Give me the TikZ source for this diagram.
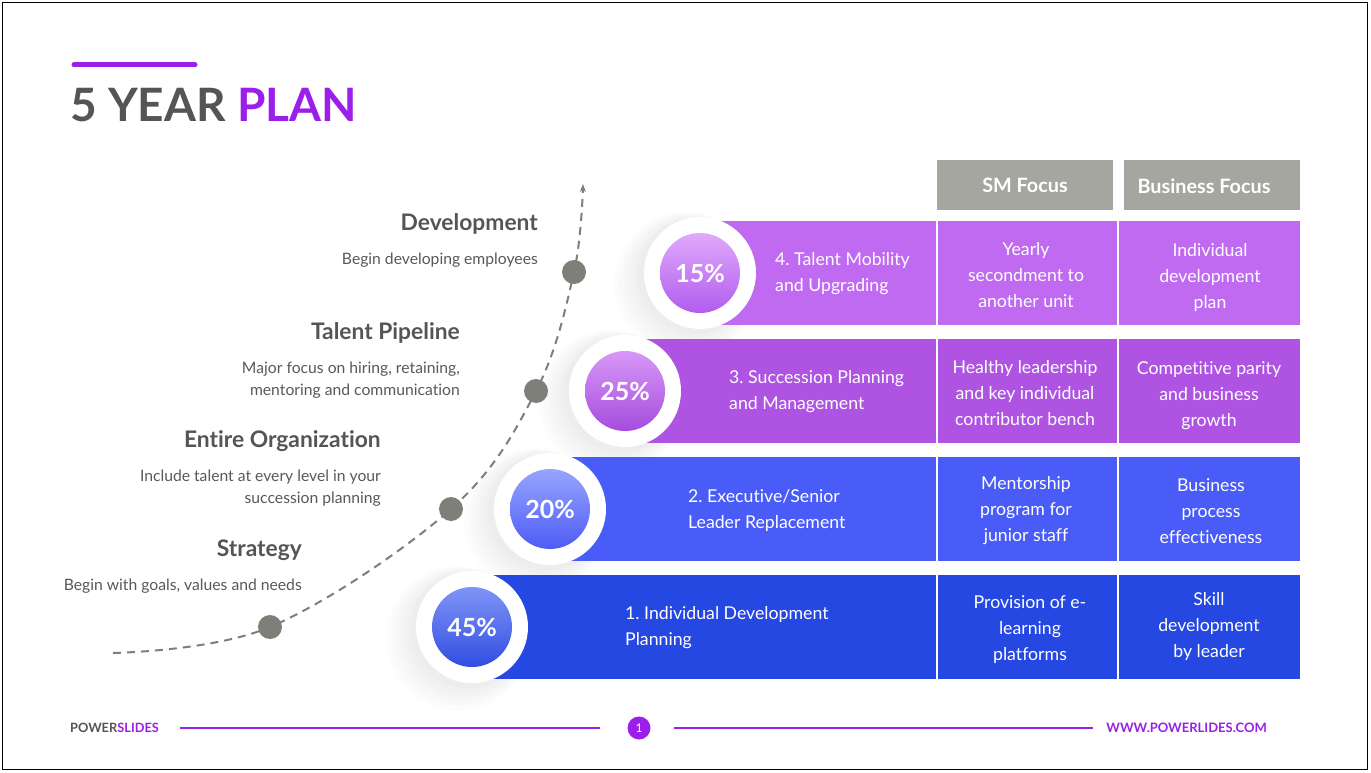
\documentclass[tikz,border=0pt]{standalone}
\usepackage{fontspec}
\setmainfont{Lato}[Ligatures=NoCommon]
\frenchspacing
\usetikzlibrary{arrows.meta, positioning}
\definecolor{mypurple}{RGB}{155,31,232}
\definecolor{mygray}{RGB}{85,85,85}
\definecolor{mytext}{RGB}{89,89,89}
\definecolor{mydot}{RGB}{127,127,122}
\definecolor{hdrgray}{RGB}{166,166,161}
\definecolor{rowfour}{RGB}{191,106,241}
\definecolor{rowthree}{RGB}{175,83,227}
\definecolor{rowtwo}{RGB}{74,92,248}
\definecolor{rowone}{RGB}{37,71,226}
\definecolor{lightfour}{RGB}{224,170,251}
\definecolor{darkfour}{RGB}{178,92,238}
\definecolor{lightthree}{RGB}{216,152,247}
\definecolor{darkthree}{RGB}{166,76,222}
\definecolor{lighttwo}{RGB}{150,165,255}
\definecolor{darktwo}{RGB}{78,92,245}
\definecolor{lightone}{RGB}{128,148,246}
\definecolor{darkone}{RGB}{48,78,226}
\tikzset{
  heading/.style={anchor=east, inner sep=0pt, text=mygray,
    font=\fontsize{22.8}{26}\selectfont\bfseries},
  desc/.style={anchor=east, align=right, inner sep=0pt, text=mytext,
    font=\fontsize{15.7}{22}\selectfont},
  hdrbox/.style={rectangle, fill=hdrgray, minimum width=176pt,
    minimum height=50pt, inner sep=0pt, text=white,
    font=\fontsize{19.8}{22}\selectfont\bfseries},
  ring/.style={circle, fill=white, minimum size=112pt, inner sep=0pt},
  pct/.style={circle, minimum size=80pt, inner sep=0pt, text=white,
    shading angle=45, font=\fontsize{25}{30}\selectfont\bfseries},
  rowlabel/.style={anchor=west, align=left, inner sep=0pt, text=white,
    font=\fontsize{17.7}{26}\selectfont},
  cell/.style={align=center, inner sep=0pt, text=white,
    font=\fontsize{17.7}{26}\selectfont},
  dot/.style={circle, fill=mydot, minimum size=24pt, inner sep=0pt},
  curve/.style={-{Stealth[length=8pt, width=6pt]}, color=mydot,
    line width=2pt, dash pattern=on 8pt off 6pt},
  divider/.style={white, line width=1.5pt},
  halo/.style={black, opacity=0.012},
  footline/.style={mypurple, line width=1.2pt}
}
\begin{document}
\begin{tikzpicture}[x=1pt, y=-1pt]
  \useasboundingbox (0,0) rectangle (1371,773);
  \fill[white] (0,0) rectangle (1371,773);
  \draw[black, line width=1.5pt] (2.5,2.5) rectangle (1367.5,769.5);

  % title
  \draw[mypurple, line width=5pt, line cap=round] (74,65) -- (195,65);
  \node[anchor=base west, inner sep=0pt, font=\fontsize{46}{52}\selectfont\bfseries]
    (title) at (70,122) {\textcolor{mygray}{5 YEAR} \textcolor{mypurple}{PLAN}};

  % column headers
  \node[hdrbox] (hsm) at (1025,185) {SM Focus};
  \node[hdrbox] (hbiz) at (1211.5,185) {};
  \node[text=white, font=\fontsize{19.8}{22}\selectfont\bfseries] (hbiztxt) at (1204,186) {Business Focus};

  % soft shadows behind the rings
  \foreach \cx/\cy in {700/273, 625/391, 550/509, 472/627} {
    \foreach \r/\d in {72/14, 69/12, 66/10, 63/8, 60/6, 58/4} {
      \fill[halo] (\cx-\d,\cy+0.8*\d) circle (\r);
    }
  }

  % bands
  \fill[rowfour] (700,221) rectangle (1300,325);
  \fill[rowthree] (625,339) rectangle (1300,443);
  \fill[rowtwo] (550,457) rectangle (1300,561);
  \fill[rowone] (472,575) rectangle (1300,679);
  \foreach \yt/\yb in {221/325, 339/443, 457/561, 575/679} {
    \draw[divider] (937,\yt) -- (937,\yb);
    \draw[divider] (1118,\yt) -- (1118,\yb);
  }

  % rings and percentages
  \node[ring] (r4) at (700,273) {};
  \node[ring] (r3) at (625,391) {};
  \node[ring] (r2) at (550,509) {};
  \node[ring] (r1) at (472,627) {};
  \node[pct, top color=lightfour, bottom color=darkfour] (c4) at (r4) {15\%};
  \node[pct, top color=lightthree, bottom color=darkthree] (c3) at (r3) {25\%};
  \node[pct, top color=lighttwo, bottom color=darktwo] (c2) at (r2) {20\%};
  \node[pct, top color=lightone, bottom color=darkone] (c1) at (r1) {45\%};

  % row labels
  \node[rowlabel] (l4) at (775,274) {4. Talent Mobility\\and Upgrading};
  \node[rowlabel] (l3) at (729,392) {3. Succession Planning\\and Management};
  \node[rowlabel] (l2) at (688,510) {2. Executive/Senior\\Leader Replacement};
  \node[rowlabel] (l1) at (625,628) {1. Individual Development\\Planning};

  % table cells
  \node[cell] (sm4) at (1026,275) {Yearly\\secondment to\\another unit};
  \node[cell] (biz4) at (1210,277) {Individual\\development\\plan};
  \node[cell] (sm3) at (1025,393) {Healthy leadership\\and key individual\\contributor bench};
  \node[cell] (biz3) at (1209,396) {Competitive parity\\and business\\growth};
  \node[cell] (sm2) at (1026,511) {Mentorship\\program for\\junior staff};
  \node[cell] (biz2) at (1211,511) {Business\\process\\effectiveness};
  \node[cell] (sm1) at (1030,630) {Provision of e-\\learning\\platforms};
  \node[cell] (biz1) at (1209,626) {Skill\\development\\by leader};

  % growth curve
  \coordinate (start) at (113,653);
  \coordinate (p1) at (270,627);
  \coordinate (p2) at (451,509);
  \coordinate (p3) at (536,391);
  \coordinate (p4) at (574,272);
  \coordinate (tip) at (583,184);
  \draw[curve] plot[smooth, tension=0.6] coordinates {(start) (p1) (p2) (p3) (p4) (tip)};
  \node[dot] (d1) at (p1) {};
  \node[dot] (d2) at (p2) {};
  \node[dot] (d3) at (p3) {};
  \node[dot] (d4) at (p4) {};

  % stage texts
  \node[heading] (dev) at (538,224) {Development};
  \node[desc] (devtxt) at (538,260) {Begin developing employees};
  \node[heading] (pipe) at (460,333) {Talent Pipeline};
  \node[desc] (pipetxt) at (460,380) {Major focus on hiring, retaining,\\mentoring and communication};
  \node[heading] (org) at (381,441) {Entire Organization};
  \node[desc] (orgtxt) at (381,488) {Include talent at every level in your\\succession planning};
  \node[heading] (strat) at (302,550) {Strategy};
  \node[desc] (strattxt) at (302,586) {Begin with goals, values and needs};

  % footer
  \node[anchor=west, inner sep=0pt, font=\fontsize{12.8}{14}\selectfont\bfseries]
    (brand) at (70,728) {\textcolor{mygray}{POWER}\textcolor{mypurple}{SLIDES}};
  \node[circle, fill=mypurple, minimum size=23pt, inner sep=0pt, text=white,
    font=\fontsize{12}{14}\selectfont] (page) at (639,728) {1};
  \node[anchor=east, inner sep=0pt, text=mypurple, font=\fontsize{13}{14}\selectfont\bfseries]
    (web) at (1267,728) {WWW.POWERLIDES.COM};
  \draw[footline] (180,728) -- (600,728);
  \draw[footline] (674,728) -- (1093,728);
\end{tikzpicture}
\end{document}
